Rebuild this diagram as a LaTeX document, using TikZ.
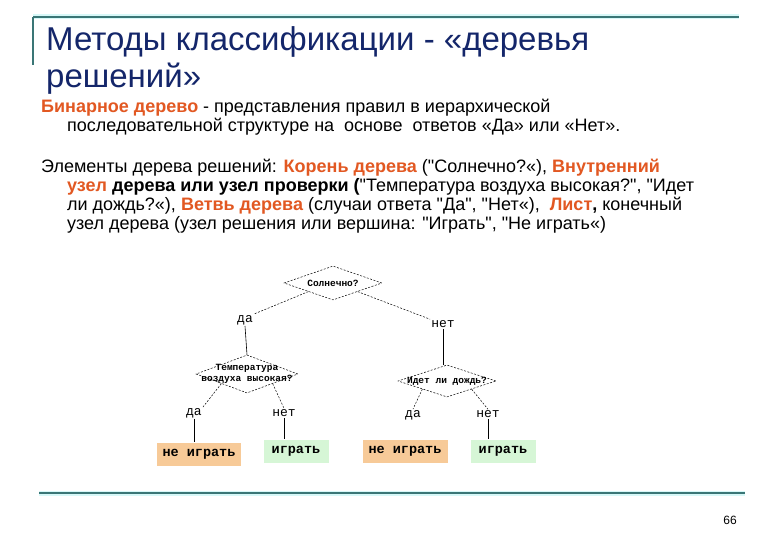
\documentclass[tikz,border=0pt]{standalone}
\usepackage{fontspec}
\setmainfont{Liberation Sans}[Ligatures=TeXOff]
\newfontfamily\treefont{Liberation Mono}
\usetikzlibrary{shapes.geometric,positioning}

\definecolor{titleblue}{RGB}{20,38,106}
\definecolor{accent}{RGB}{226,88,34}
\definecolor{ruleteal}{RGB}{58,118,118}
\definecolor{ruleglow}{RGB}{215,248,248}
\definecolor{leaforange}{RGB}{247,202,152}
\definecolor{leafgreen}{RGB}{214,246,214}

\newcommand{\hl}[1]{\textcolor{accent}{\textbf{#1}}}

\begin{document}
\begin{tikzpicture}[x=1pt,y=-1pt,
  test/.style={diamond, draw, dash pattern=on 2pt off 1.5pt, line width=0.5pt, inner sep=0pt},
  testtxt/.style={font=\treefont\bfseries\fontsize{9.5}{10.5}\selectfont, align=center},
  ans/.style={font=\treefont\fontsize{13}{14}\selectfont, inner sep=1pt},
  leaf/.style={font=\treefont\bfseries\fontsize{13.5}{14}\selectfont, minimum height=23pt, inner sep=0pt},
  branch/.style={dash pattern=on 2pt off 1.5pt, line width=0.5pt},
  stem/.style={line width=0.6pt},
  body/.style={anchor=north west, align=left, inner sep=0pt, font=\fontsize{18}{19}\selectfont},
  rulebar/.style={line width=2pt, draw=ruleteal}]
\useasboundingbox[fill=white] (0,0) rectangle (780,540);
% header rule
\draw[line width=5pt, draw=ruleglow] (33,17) -- (739,17);
\draw[rulebar] (33,17) -- (739,17);
\draw[rulebar] (33,17) -- (33,65);
% title
\node[anchor=north west, align=left, inner sep=0pt, text=titleblue,
  font=\fontsize{33}{37}\selectfont] (title) at (46,26)
  {Методы классификации - «деревья\\решений»};
% text
\node[body] (def) at (41,99)
  {\hl{Бинарное дерево} - представления правил в иерархической\\
   \hspace*{26pt}последовательной структуре на\ \ основе\ \ ответов «Да» или «Нет».};
\node[body] (parts) at (41,159)
  {Элементы дерева решений: \hl{Корень дерева} ("Солнечно?«), \hl{Внутренний}\\
   \hspace*{26pt}\hl{узел} \textbf{дерева или узел проверки (}"Температура воздуха высокая?", "Идет\\
   \hspace*{26pt}ли дождь?«), \hl{Ветвь дерева} (случаи ответа "Да", "Нет«),\ \ \hl{Лист}\textbf{,} конечный\\
   \hspace*{26pt}узел дерева (узел решения или вершина: "Играть", "Не играть«)};
% tree
\node[test, minimum width=98pt, minimum height=34pt,
  label={[testtxt]center:Солнечно?}] (root) at (333,283) {};
\node[ans] (yes1) at (245,320) {да};
\node[ans] (no1) at (443,324) {нет};
\node[test, minimum width=102pt, minimum height=38pt,
  label={[testtxt]center:Температура\\воздуха высокая?}] (hot) at (247,374) {};
\node[test, minimum width=98pt, minimum height=32pt,
  label={[testtxt]center:Идет ли дождь?}] (rain) at (447,381) {};
\node[ans] (yes2) at (194,413) {да};
\node[ans] (no2) at (284,413) {нет};
\node[ans] (yes3) at (413,415) {да};
\node[ans] (no3) at (488,414) {нет};
\node[leaf, fill=leaforange, minimum width=84pt] (stay1) at (199,454) {не играть};
\node[leaf, fill=leafgreen, minimum width=65pt] (play1) at (296,451) {играть};
\node[leaf, fill=leaforange, minimum width=85pt] (stay2) at (405,451) {не играть};
\node[leaf, fill=leafgreen, minimum width=65pt] (play2) at (503,451) {играть};
\draw[branch] (root.south west) -- (yes1.north east);
\draw[branch] (root.south east) -- (no1.north west);
\draw[stem] (yes1.south) -- (hot.north);
\draw[stem] (no1.south) -- (no1.south |- rain.north);
\draw[branch] (hot.south west) -- (yes2.north east);
\draw[branch] (hot.south east) -- (no2.north);
\draw[branch] (rain.south west) -- (yes3.north);
\draw[branch] (rain.south east) -- (no3.north);
\draw[stem] (yes2.south) -- (yes2.south |- stay1.north);
\draw[stem] (no2.south) -- (no2.south |- play1.north);
\draw[stem] (no3.south) -- (no3.south |- play2.north);
% footer
\draw[line width=5pt, draw=ruleglow] (39,493) -- (745,493);
\draw[rulebar] (39,493) -- (745,493);
\node[font=\fontsize{12}{12}\selectfont] (page) at (730,520) {66};
\end{tikzpicture}
\end{document}
